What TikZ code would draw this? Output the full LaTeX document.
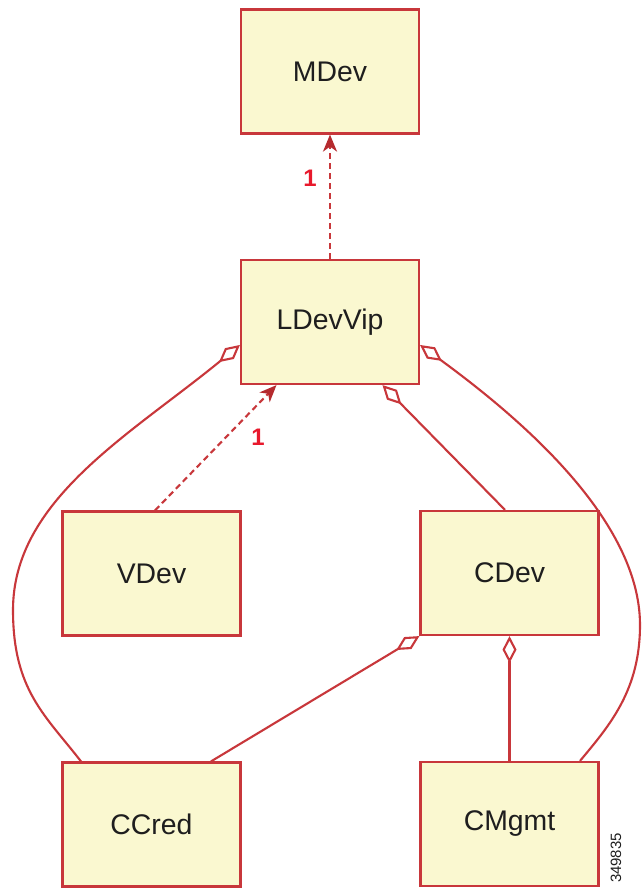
\documentclass[tikz,border=0pt]{standalone}
\usepackage{fontspec}
\setmainfont{Liberation Sans}
\usepackage{tikz}
\usetikzlibrary{positioning,calc,arrows.meta}

\definecolor{boxred}{HTML}{C8373B}
\definecolor{boxfill}{HTML}{FAF8D0}
\definecolor{multred}{HTML}{E8192C}
\definecolor{tipred}{HTML}{B52A2E}
\definecolor{textgray}{HTML}{1E1E1E}

\begin{document}
\begin{tikzpicture}[
    x=1bp, y=1bp,
    cls/.style={rectangle, draw=boxred, fill=boxfill, line width=2.2bp, minimum width=178bp, minimum height=124bp, text=textgray, font=\fontsize{28.5}{34}\selectfont},
    link/.style={draw=boxred, line width=2.1bp},
    agg/.style={link, -{Diamond[open, length=27bp, width=14bp]}},
    dep/.style={link, dash pattern=on 6bp off 4bp, -{Stealth[length=17bp, width=14bp, inset=5bp, color=tipred]}},
    mult/.style={text=multred, inner sep=0pt, font=\fontsize{24}{28}\selectfont\bfseries}
]

% Page
\fill[white] (0,0) rectangle (643,888);
\useasboundingbox (0,0) rectangle (643,888);

% Define node positions
\node[cls] (MDev) at (330, 816.5) {MDev};
\node[cls] (LDevVip) at (330, 566) {LDevVip};
\node[cls] (VDev) at (151.5, 314.5) {VDev};
\node[cls] (CDev) at (509.5, 315) {CDev};
\node[cls] (CCred) at (151.5, 63.5) {CCred};
\node[cls] (CMgmt) at (509.5, 64) {CMgmt};

% Dashed dependencies with multiplicity
\draw[dep] (LDevVip.north) -- (MDev.south);
\draw[dep] ($ (VDev.north)+(3.5,0) $) -- ($ (LDevVip.south)+(-53.5,0) $);
\node[mult] (multMDev) at (310, 710) {1};
\node[mult] (multLDev) at (258, 451) {1};

% Aggregations (open diamond at the whole)
\draw[agg] ($ (CDev.north)+(-4.5,0) $) -- ($ (LDevVip.south)+(52.5,0) $);
\draw[agg] ($ (CCred.north)+(59.5,0) $) -- (CDev.south west);
\draw[agg] (CMgmt.north) -- (CDev.south);
\draw[agg] ($ (CCred.north)+(-70.5,0) $) .. controls (45,173) and (13,198) .. (13,278)
    .. controls (13,388) and (130,453) .. ($ (LDevVip.west)+(0,-23) $);
\draw[agg] ($ (CMgmt.north)+(70.5,0) $) .. controls (610,163) and (640,198) .. (640,263)
    .. controls (640,368) and (520,470) .. ($ (LDevVip.east)+(0,-23) $);

% Figure number
\node[rotate=90, text=textgray, font=\fontsize{15}{18}\selectfont] (figno) at (616, 30) {349835};

\end{tikzpicture}
\end{document}
